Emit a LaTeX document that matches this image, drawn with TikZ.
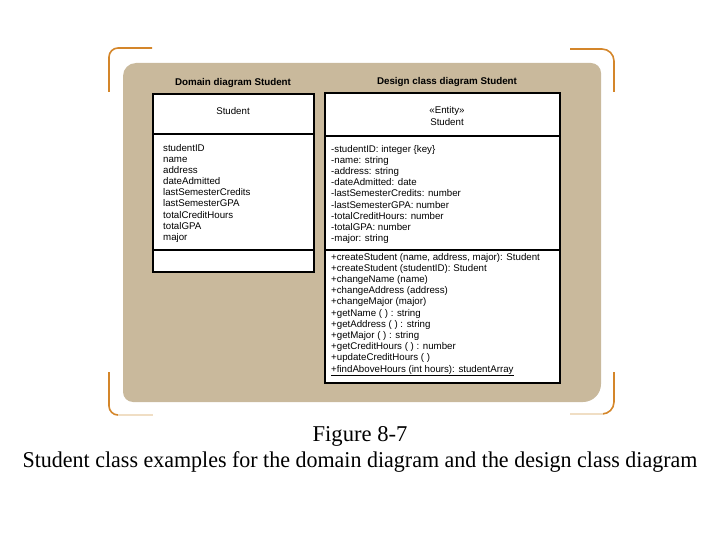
\documentclass[tikz,border=0pt]{standalone}
\usepackage{fontspec}
\setmainfont{Liberation Serif}
\setsansfont{Liberation Sans}
\definecolor{tanbg}{RGB}{201,185,156}
\definecolor{bracketorange}{RGB}{212,134,42}
\definecolor{bracketpale}{RGB}{240,222,196}
\tikzset{
  umltext/.style={font=\sffamily\fontsize{9.7}{11}\selectfont, inner sep=0pt},
  umltitle/.style={font=\sffamily\bfseries\fontsize{9.8}{11}\selectfont, inner sep=0pt},
  umlbox/.style={draw=black, fill=white, line width=1.4pt},
  bracket/.style={draw=bracketorange, line width=1.6pt},
  captiontext/.style={font=\fontsize{22.6}{26}\selectfont, inner sep=0pt}
}
\begin{document}
\begin{tikzpicture}[x=1pt, y=-1pt]

\useasboundingbox (0,0) rectangle (720,540);

% Latar coklat muda dengan sudut membulat
\fill[tanbg] (123,200) [rounded corners=13pt] -- (123,63) [rounded corners=10pt] -- (601,63) [rounded corners=18pt] -- (601,402) [rounded corners=10pt] -- (123,402) [sharp corners] -- cycle;

% Siku oranye di keempat sudut
\draw[bracket, rounded corners=9pt] (109,92) -- (109,48) -- (152,48);
\draw[bracket, rounded corners=12pt] (570,49) -- (614,49) -- (614,92);
\draw[bracket, rounded corners=9pt] (109,372) -- (109,415) -- (118,415);
\draw[draw=bracketpale, line width=1.6pt] (118,415) -- (153,415);
\draw[bracket, rounded corners=12pt] (614,372) -- (614,414) -- (603,414);
\draw[draw=bracketpale, line width=1.6pt] (603,414) -- (570,414);

% Kelas domain
\node[umltitle] (domaintitle) at (233,83) {Domain diagram Student};
\filldraw[umlbox] (153,94) rectangle (314,272);
\draw[line width=1.4pt] (153,134) -- (314,134);
\draw[line width=1.4pt] (153,250) -- (314,250);
\node[umltext] (domainname) at (233,111) {Student};
\foreach \attr [count=\i from 0] in {studentID, name, address, dateAdmitted, lastSemesterCredits, lastSemesterGPA, totalCreditHours, totalGPA, major}
  \node[umltext, anchor=base west] (dattr\i) at (163,151.5+11.1*\i) {\attr};

% Kelas desain
\node[umltitle] (designtitle) at (447,82) {Design class diagram Student};
\filldraw[umlbox] (325,93) rectangle (560,383);
\draw[line width=1.4pt] (325,136) -- (560,136);
\draw[line width=1.4pt] (325,250) -- (560,250);
\node[umltext] (stereotype) at (447,111) {«Entity»};
\node[umltext] (designname) at (447,122) {Student};
\foreach \attr [count=\i from 0] in {-studentID: integer \{key\}, -name: string, -address: string, -dateAdmitted: date, -lastSemesterCredits: number, -lastSemesterGPA: number, -totalCreditHours: number, -totalGPA: number, -major: string}
  \node[umltext, anchor=base west] (gattr\i) at (331,152.5+11.1*\i) {\attr};
\foreach \meth [count=\i from 0] in {{+createStudent (name, address, major): Student}, {+createStudent (studentID): Student}, {+changeName (name)}, {+changeAddress (address)}, {+changeMajor (major)}, {+getName ( ) : string}, {+getAddress ( ) : string}, {+getMajor ( ) : string}, {+getCreditHours ( ) : number}, {+updateCreditHours ( )}, {\underline{+findAboveHours (int hours): studentArray}}}
  \node[umltext, anchor=base west] (gmeth\i) at (331,260+11.2*\i) {\meth};

% Keterangan gambar
\node[captiontext, anchor=base] (figno) at (360,441) {Figure 8-7};
\node[captiontext, anchor=base] (figcap) at (360,467) {\scalebox{0.973}[1]{Student class examples for the domain diagram and the design class diagram}};
\end{tikzpicture}
\end{document}
